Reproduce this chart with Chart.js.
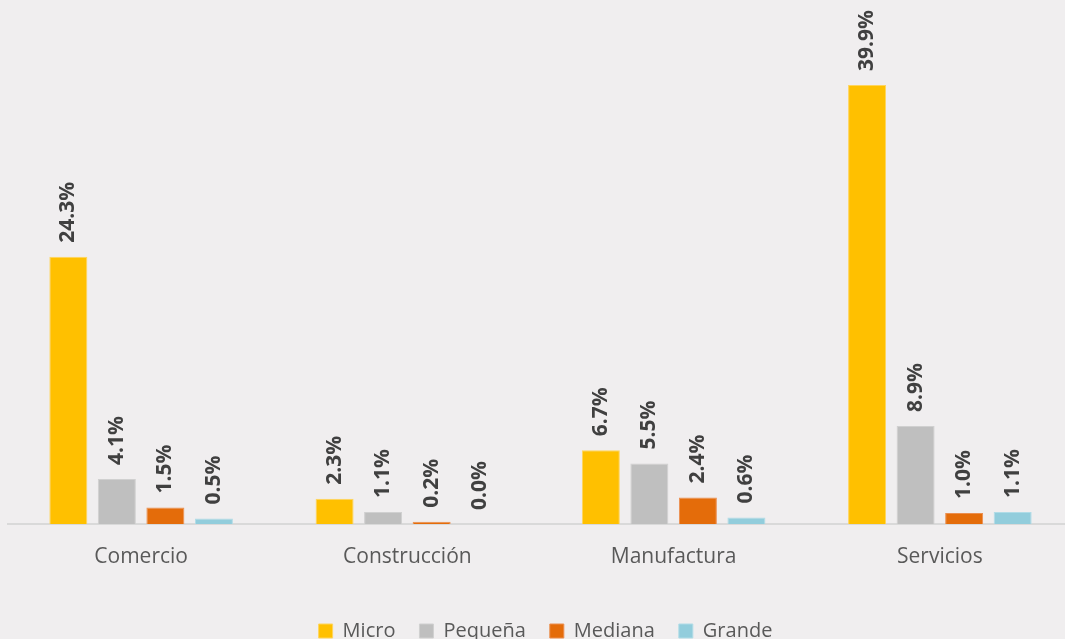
<!DOCTYPE html>
<html>
<head>
<meta charset="utf-8">
<script src="https://cdn.jsdelivr.net/npm/chart.js@4.4.0/dist/chart.umd.min.js"></script>
<style>
  html, body { margin: 0; padding: 0; background: #F0EEEF; overflow: hidden; width: 1065px; height: 639px; }
  #wrap { position: absolute; left: 0; top: 0; width: 1074px; height: 651px; }
</style>
</head>
<body>
<div id="wrap"><canvas id="c" width="1074" height="651"></canvas></div>
<script>
const categories = ['Comercio', 'Construcción', 'Manufactura', 'Servicios'];
const seriesNames = ['Micro', 'Pequeña', 'Mediana', 'Grande'];
const micro   = [24.3, 2.3, 6.7, 39.9];
const pequena = [4.1, 1.1, 5.5, 8.9];
const mediana = [1.5, 0.2, 2.4, 1.0];
const grande  = [0.5, 0.0, 0.6, 1.1];

const fills   = ['#FFC000', '#BFBFBF', '#E46C0A', '#92CDDC'];
const borders = ['#FFD55C', '#D0D0D0', '#EB8E4E', '#B0DCE7'];

const valueLabels = {
  id: 'valueLabels',
  afterLayout(chart) {
    if (chart.legend) { chart.legend.left += 5; chart.legend.right += 5; }
  },
  afterDatasetsDraw(chart) {
    const ctx = chart.ctx;
    chart.data.datasets.forEach((ds, i) => {
      const meta = chart.getDatasetMeta(i);
      meta.data.forEach((bar, j) => {
        const v = ds.data[j];
        ctx.save();
        ctx.translate(bar.x, bar.y - 14);
        ctx.rotate(-Math.PI / 2);
        ctx.font = 'bold 21px "Open Sans"';
        ctx.fillStyle = '#404040';
        ctx.textAlign = 'left';
        ctx.textBaseline = 'middle';
        ctx.fillText(v.toFixed(1) + '%', 0, 0);
        ctx.restore();
      });
    });
  }
};

function build() {
  const values = [micro, pequena, mediana, grande];
  new Chart(document.getElementById('c'), {
    type: 'bar',
    data: {
      labels: categories,
      datasets: values.map((d, i) => ({
        label: seriesNames[i],
        data: d,
        backgroundColor: fills[i],
        borderColor: borders[i],
        borderWidth: 1,
        categoryPercentage: 0.729,
        barPercentage: 0.783
      }))
    },
    options: {
      responsive: false,
      animation: false,
      devicePixelRatio: 1,
      layout: { padding: { left: 8, right: 1, top: 29, bottom: 0 } },
      scales: {
        x: {
          grid: { display: false, drawTicks: false },
          border: { color: '#D9D9D9', width: 2 },
          ticks: { color: '#595959', font: { family: 'Open Sans', size: 21 }, padding: 20 },
          afterFit(scale) { scale.height = 73; }
        },
        y: { display: false, min: 0, max: 45 }
      },
      plugins: {
        legend: {
          position: 'bottom',
          labels: {
            boxWidth: 14, boxHeight: 14, padding: 24,
            color: '#595959',
            font: { family: 'Open Sans', size: 20 }
          }
        },
        tooltip: { enabled: false }
      }
    },
    plugins: [valueLabels]
  });
}
if (document.fonts && document.fonts.load) {
  Promise.all([
    document.fonts.load('20px "Open Sans"'),
    document.fonts.load('bold 21px "Open Sans"')
  ]).then(build, build);
} else { build(); }
</script>
</body>
</html>
